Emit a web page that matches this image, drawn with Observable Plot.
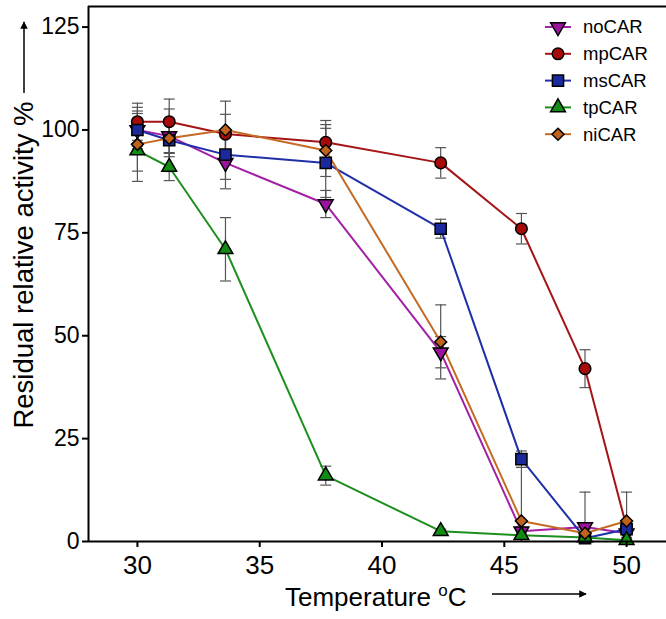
<!DOCTYPE html>
<html>
<head>
<meta charset="utf-8">
<script src="https://cdn.jsdelivr.net/npm/d3@7"></script>
<script src="https://cdn.jsdelivr.net/npm/@observablehq/plot@0.6"></script>
<style>
  html, body { margin: 0; padding: 0; background: #fff; overflow: hidden; }
  #chart { width: 666px; height: 619px; overflow: hidden; position: relative; }
  svg { display: block; }
</style>
</head>
<body>
<div id="chart"></div>
<script>
// ---- data ----
const temps = [30, 31.3, 33.6, 37.7, 42.4, 45.7, 48.3, 50];
const seriesNames = ["noCAR", "mpCAR", "msCAR", "tpCAR", "niCAR"];
const noCAR = [100, 98.5, 92, 82, 46, 2.5, 3.5, 2];
const noCARerr = [4, 4, 6.3, 3.3, 3.8, 1, 8.5, 1];
const mpCAR = [102, 102, 99, 97, 92, 76, 42, 3.5];
const mpCARerr = [4.5, 5.5, 4.8, 5.3, 3.7, 3.7, 4.6, 1.5];
const msCAR = [100, 97.5, 94, 92, 76, 20, 0.8, 3];
const msCARerr = [4.6, 7.6, 6, 8.4, 2.3, 2, 0.5, 1];
const tpCAR = [95, 91, 71, 16, 2.5, 1.5, 1, 0.3];
const tpCARerr = [5, 3.3, 7.7, 2.3, 0.5, 0.5, 0.3, 0.3];
const niCAR = [96.5, 98, 100, 95, 48.5, 5, 2, 5];
const niCARerr = [9, 4.5, 7, 6.3, 9, 13, 1, 7];
const xTicks = [30, 35, 40, 45, 50];
const yTicks = [0, 25, 50, 75, 100, 125];
const xDomain = [28, 52];
const yDomain = [0, 130];

// ---- styles ----
const FONT = "'Liberation Sans', Arial, sans-serif";
const lineColors = {noCAR: "#a21fa6", mpCAR: "#a51414", msCAR: "#1f2fa8", tpCAR: "#1e8e1e", niCAR: "#c46a22"};
const fillColors = {noCAR: "#9c149e", mpCAR: "#a80a0a", msCAR: "#1a2a9c", tpCAR: "#138c13", niCAR: "#c0621c"};
const symbols = {noCAR: "triangle", mpCAR: "circle", msCAR: "square", tpCAR: "triangle", niCAR: "diamond2"};
const rotations = {noCAR: 180, mpCAR: 0, msCAR: 0, tpCAR: 0, niCAR: 0};
const radii = {noCAR: 5.5, mpCAR: 5.8, msCAR: 6.3, tpCAR: 5.5, niCAR: 5.4};

const valuesBy = {noCAR, mpCAR, msCAR, tpCAR, niCAR};
const errBy = {noCAR: noCARerr, mpCAR: mpCARerr, msCAR: msCARerr, tpCAR: tpCARerr, niCAR: niCARerr};

const rows = seriesNames.flatMap(s => temps.map((t, i) => ({
  series: s, t, v: valuesBy[s][i], lo: valuesBy[s][i] - errBy[s][i], hi: valuesBy[s][i] + errBy[s][i]
})));

const capSymbol = {draw(ctx, size) { ctx.moveTo(-5.5, 0); ctx.lineTo(5.5, 0); }};

const marks = [
  Plot.ruleX(rows, {x: "t", y1: "lo", y2: "hi", stroke: "#555", strokeWidth: 1.2, clip: true}),
  Plot.dot(rows, {x: "t", y: "hi", symbol: capSymbol, stroke: "#555", strokeWidth: 1.2, fill: "none", clip: true}),
  Plot.dot(rows, {x: "t", y: "lo", symbol: capSymbol, stroke: "#555", strokeWidth: 1.2, fill: "none", clip: true}),
];
for (const s of seriesNames) {
  marks.push(Plot.line(rows.filter(d => d.series === s), {x: "t", y: "v", stroke: lineColors[s], strokeWidth: 2}));
}
for (const s of seriesNames) {
  marks.push(Plot.dot(rows.filter(d => d.series === s), {
    x: "t", y: "v", symbol: symbols[s], r: radii[s], rotate: rotations[s],
    fill: fillColors[s], stroke: "#000", strokeWidth: 1.5
  }));
}
marks.push(
  Plot.ruleY([yDomain[0]], {stroke: "#000", strokeWidth: 2}),
  Plot.ruleY([yDomain[1]], {stroke: "#000", strokeWidth: 2}),
  Plot.ruleX([xDomain[0]], {stroke: "#000", strokeWidth: 2}),
  Plot.axisX({ticks: xTicks, tickSize: 6, tickPadding: 8, fontSize: 26, strokeWidth: 2, label: null}),
  Plot.axisY({ticks: yTicks, tickSize: 6, tickPadding: 3, fontSize: 23, strokeWidth: 2, label: null})
);

const chart = Plot.plot({
  width: 675,
  height: 619,
  marginLeft: 88,
  marginRight: 0,
  marginTop: 6,
  marginBottom: 78,
  x: {domain: xDomain, label: null},
  y: {domain: yDomain, label: null},
  style: {fontFamily: FONT, color: "#000", background: "#fff", maxWidth: "none"},
  marks
});
chart.style.maxWidth = "none";

const svg = d3.select(chart);

// axis titles with arrows
const defs = svg.append("defs");
defs.append("marker").attr("id", "ah").attr("viewBox", "0 0 10 10").attr("refX", 9).attr("refY", 5)
  .attr("markerWidth", 5).attr("markerHeight", 5).attr("orient", "auto")
  .append("path").attr("d", "M0,0L10,5L0,10z").attr("fill", "#000");

const xt = svg.append("text")
  .attr("x", 285).attr("y", 606).attr("text-anchor", "start")
  .attr("font-size", 26).attr("font-family", FONT).attr("fill", "#000");
xt.append("tspan").text("Temperature ");
xt.append("tspan").attr("font-size", 17).attr("dy", -10).text("o");
xt.append("tspan").attr("dy", 10).text("C");
svg.append("line").attr("x1", 492).attr("y1", 594).attr("x2", 586).attr("y2", 594)
  .attr("stroke", "#000").attr("stroke-width", 1.5).attr("marker-end", "url(#ah)");

svg.append("text")
  .attr("transform", "translate(33,265) rotate(-90)")
  .attr("text-anchor", "middle")
  .attr("font-size", 27.5).attr("font-family", FONT).attr("fill", "#000")
  .text("Residual relative activity %");
svg.append("line").attr("x1", 24).attr("y1", 93).attr("x2", 24).attr("y2", 22)
  .attr("stroke", "#000").attr("stroke-width", 1.5).attr("marker-end", "url(#ah)");

// legend
const leg = svg.append("g").attr("font-family", FONT).attr("font-size", 18.5).attr("text-anchor", "start");
const symMap = {triangle: d3.symbolTriangle, circle: d3.symbolCircle, square: d3.symbolSquare, diamond2: d3.symbolDiamond2};
seriesNames.forEach((s, i) => {
  const y = 27 + i * 26.8;
  leg.append("line").attr("x1", 545).attr("x2", 571).attr("y1", y).attr("y2", y)
    .attr("stroke", lineColors[s]).attr("stroke-width", 2);
  const r = radii[s];
  leg.append("path").attr("d", d3.symbol(symMap[symbols[s]], Math.PI * r * r)())
    .attr("transform", `translate(558,${y}) rotate(${rotations[s]})`)
    .attr("fill", fillColors[s]).attr("stroke", "#000").attr("stroke-width", 1.5);
  leg.append("text").attr("x", 583).attr("y", y).attr("dy", "0.35em").attr("fill", "#000").text(s);
});

document.getElementById("chart").appendChild(chart);
</script>
</body>
</html>
